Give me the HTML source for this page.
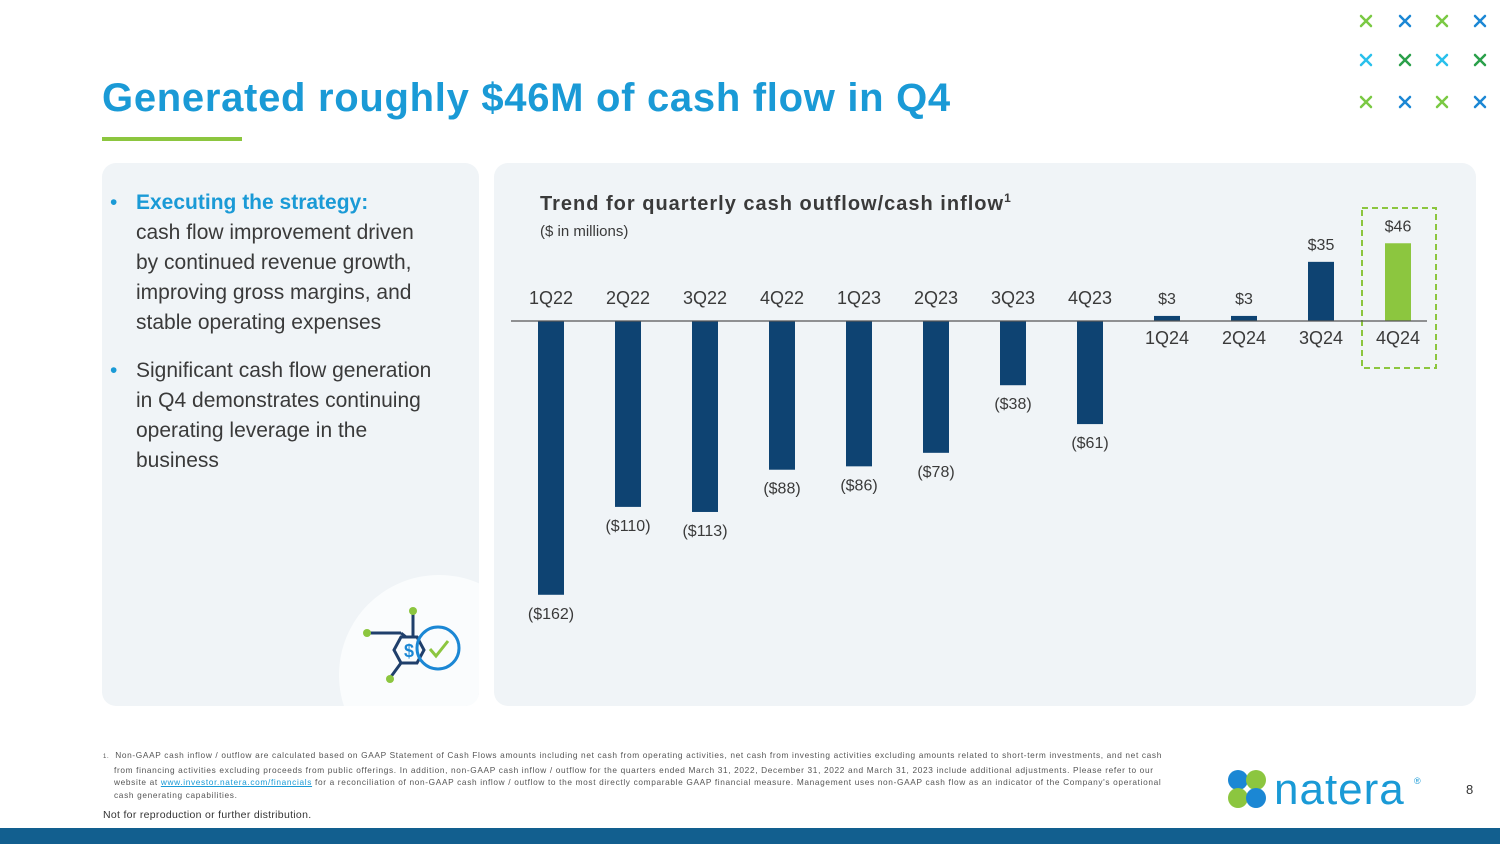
<!DOCTYPE html>
<html><head><meta charset="utf-8">
<style>
*{margin:0;padding:0;box-sizing:border-box}
body{width:1500px;height:844px;position:relative;overflow:hidden;background:#fff;font-family:"Liberation Sans",Calibri,sans-serif}
.abs{position:absolute}
</style></head><body>
<div class="abs" style="left:102px;top:76px;font-size:40px;font-weight:bold;color:#1a9ad6;letter-spacing:0.7px">Generated roughly $46M of cash flow in Q4</div>
<div class="abs" style="left:102px;top:137px;width:140px;height:4px;background:#8cc63f"></div>
<svg class="abs" style="left:1350px;top:5px" width="150" height="110">
<g stroke-width="2.5" stroke-linecap="round">
<g transform="translate(16,16)" stroke="#7ac943"><path d="M-5-5L5 5M5-5L-5 5"/></g>
<g transform="translate(55,16)" stroke="#1b87d4"><path d="M-5-5L5 5M5-5L-5 5"/></g>
<g transform="translate(92,16)" stroke="#7ac943"><path d="M-5-5L5 5M5-5L-5 5"/></g>
<g transform="translate(130,16)" stroke="#1b87d4"><path d="M-5-5L5 5M5-5L-5 5"/></g>
<g transform="translate(16,55)" stroke="#29c0ec"><path d="M-5-5L5 5M5-5L-5 5"/></g>
<g transform="translate(55,55)" stroke="#2aa04a"><path d="M-5-5L5 5M5-5L-5 5"/></g>
<g transform="translate(92,55)" stroke="#29c0ec"><path d="M-5-5L5 5M5-5L-5 5"/></g>
<g transform="translate(130,55)" stroke="#2aa04a"><path d="M-5-5L5 5M5-5L-5 5"/></g>
<g transform="translate(16,97)" stroke="#7ac943"><path d="M-5-5L5 5M5-5L-5 5"/></g>
<g transform="translate(55,97)" stroke="#1b87d4"><path d="M-5-5L5 5M5-5L-5 5"/></g>
<g transform="translate(92,97)" stroke="#7ac943"><path d="M-5-5L5 5M5-5L-5 5"/></g>
<g transform="translate(130,97)" stroke="#1b87d4"><path d="M-5-5L5 5M5-5L-5 5"/></g>
</g></svg>

<div class="abs" style="left:102px;top:163px;width:377px;height:543px;background:#f0f4f7;border-radius:14px;overflow:hidden">
  <div class="abs" style="left:237px;top:412px;width:200px;height:200px;border-radius:50%;background:#fafcfd"></div>
  <div class="abs" style="left:8px;top:25px;width:350px;font-size:21px;line-height:30px;color:#3a3a3a">
    <div style="position:relative;padding-left:26px"><span style="position:absolute;left:0;color:#1a9ad6">•</span><b style="color:#1a9ad6">Executing the strategy:</b><br>cash flow improvement driven<br>by continued revenue growth,<br>improving gross margins, and<br>stable operating expenses</div>
    <div style="position:relative;padding-left:26px;margin-top:18px"><span style="position:absolute;left:0;color:#1a9ad6">•</span>Significant cash flow generation<br>in Q4 demonstrates continuing<br>operating leverage in the<br>business</div>
  </div>
  <svg class="abs" style="left:258px;top:440px" width="110" height="90">
    <g fill="none" stroke="#1f3f6b" stroke-width="3">
      <polygon points="34,47 41,34 57,34 64,47 57,60 41,60"/>
      <line x1="7" y1="30" x2="41" y2="30"/><line x1="41" y1="30" x2="46" y2="34"/>
      <line x1="53" y1="8" x2="53" y2="34"/>
      <line x1="41" y1="60" x2="30" y2="75"/>
    </g>
    <circle cx="78" cy="45" r="21" fill="none" stroke="#1b87d4" stroke-width="3"/>
    <polyline points="70,46 76,53 88,38" fill="none" stroke="#8cc63f" stroke-width="3"/>
    <text x="49" y="54" font-size="18" font-weight="bold" fill="#1b87d4" text-anchor="middle">$</text>
    <circle cx="7" cy="30" r="4" fill="#8cc63f"/><circle cx="53" cy="8" r="4" fill="#8cc63f"/><circle cx="30" cy="76" r="4" fill="#8cc63f"/>
  </svg>
</div>

<div class="abs" style="left:494px;top:163px;width:982px;height:543px;background:#f0f4f7;border-radius:14px"></div>
<svg class="abs" id="chart" style="left:0;top:0" width="1500" height="844">
  <text x="540" y="210" font-size="20" font-weight="bold" fill="#3a3a3a" letter-spacing="1">Trend for quarterly cash outflow/cash inflow<tspan font-size="12" dy="-8">1</tspan></text>
  <text x="540" y="236" font-size="15" fill="#3a3a3a">($ in millions)</text>
  <rect x="1362" y="208" width="74" height="160" fill="none" stroke="#8cc63f" stroke-width="2" stroke-dasharray="6,4"/>
</svg>

<div class="abs" style="left:103px;top:749px;width:1120px;font-size:8.3px;line-height:12.5px;color:#555;letter-spacing:0.65px;white-space:nowrap">
<span style="font-size:6px">1.</span>&nbsp; Non-GAAP cash inflow / outflow are calculated based on GAAP Statement of Cash Flows amounts including net cash from operating activities, net cash from investing activities excluding amounts related to short-term investments, and net cash<br><span style="padding-left:11px">from financing activities excluding proceeds from public offerings. In addition, non-GAAP cash inflow / outflow for the quarters ended March 31, 2022, December 31, 2022 and March 31, 2023 include additional adjustments. Please refer to our</span><br><span style="padding-left:11px">website at <u style="color:#1a9ad6">www.investor.natera.com/financials</u> for a reconciliation of non-GAAP cash inflow / outflow to the most directly comparable GAAP financial measure. Management uses non-GAAP cash flow as an indicator of the Company's operational</span><br><span style="padding-left:11px">cash generating capabilities.</span></div>
<div class="abs" style="left:103px;top:809px;font-size:10.5px;color:#333;letter-spacing:0.3px">Not for reproduction or further distribution.</div>
<svg class="abs" style="left:1226px;top:768px" width="200" height="44">
  <circle cx="12" cy="12" r="10" fill="#1b87d4"/><circle cx="30" cy="12" r="10" fill="#8cc63f"/>
  <circle cx="12" cy="30" r="10" fill="#8cc63f"/><circle cx="30" cy="30" r="10" fill="#1b87d4"/>
  <text x="48" y="36" font-size="44" fill="#1a9ad6" letter-spacing="1">natera</text>
  <text x="188" y="16" font-size="9" fill="#1a9ad6">®</text>
</svg>
<div class="abs" style="left:1466px;top:782px;font-size:13px;color:#333">8</div>
<div class="abs" style="left:0;top:828px;width:1500px;height:16px;background:#125f8f"></div>

<script>
const categories=["1Q22","2Q22","3Q22","4Q22","1Q23","2Q23","3Q23","4Q23","1Q24","2Q24","3Q24","4Q24"];
const values=[-162,-110,-113,-88,-86,-78,-38,-61,3,3,35,46];
const valueLabels=["($162)","($110)","($113)","($88)","($86)","($78)","($38)","($61)","$3","$3","$35","$46"];
const svg=document.getElementById('chart');
const NS='http://www.w3.org/2000/svg';
const baseY=321, scale=1.69, x0=551, step=77, bw=26;
function xPos(i){return x0+i*step;}
function yPos(v){return baseY-v*scale;}
function mk(tag,attrs){const e=document.createElementNS(NS,tag);for(const k in attrs)e.setAttribute(k,attrs[k]);svg.appendChild(e);return e;}
categories.forEach((c,i)=>{
  const v=values[i],x=xPos(i),y=yPos(v);
  const r=mk('rect',{x:x-bw/2,y:Math.min(y,baseY),width:bw,height:Math.abs(y-baseY),fill:i===11?'#8cc63f':'#0e4372'});
  
  
  const ct=mk('text',{x:x,y:v<0?baseY-17:baseY+23,'font-size':18,fill:'#3a3a3a','text-anchor':'middle'});
  ct.textContent=c;
  
  
  const vt=mk('text',{x:x,y:v<0?y+24:y-12,'font-size':16,fill:'#3a3a3a','text-anchor':'middle'});
  vt.textContent=valueLabels[i];
  
  
});
const ax=mk('line',{x1:511,x2:1427,y1:baseY,y2:baseY,stroke:'#555','stroke-width':1.2});


</script>
</body></html>
